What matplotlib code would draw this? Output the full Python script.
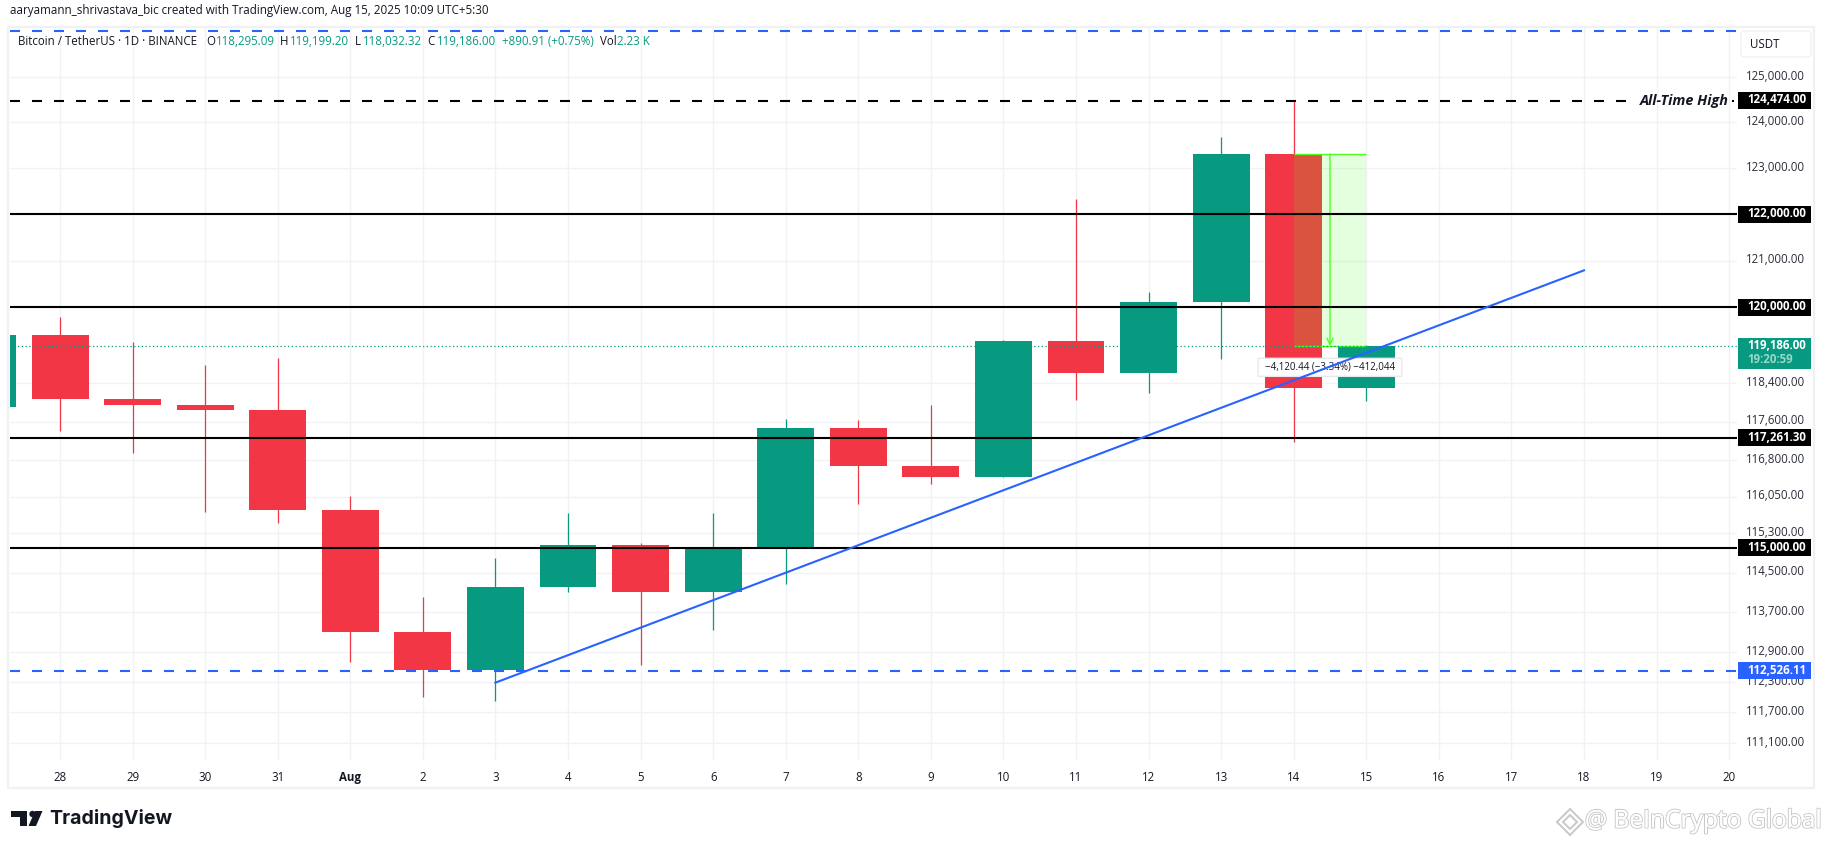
import numpy as np
import matplotlib
matplotlib.use("Agg")
import matplotlib.pyplot as plt
import matplotlib.patheffects as pe
import matplotlib.transforms as mtransforms
from matplotlib.patches import Rectangle, FancyBboxPatch, Polygon, Circle
from matplotlib.ticker import NullLocator

# daily candles, Jul 27 to Aug 15 (index 0 = Aug 1)
days = [-5, -4, -3, -2, -1, 0, 1, 2, 3, 4, 5, 6, 7, 8, 9, 10, 11, 12, 13, 14]
opens = [117900, 119415, 118062, 117950, 117840, 115764, 113297, 112546, 114208, 115055,
         114108, 114992, 117470, 116674, 116462, 119295, 118620, 120120, 123306, 118295]
highs = [119800, 119800, 119273, 118792, 118922, 116058, 114000, 114800, 115720, 115100,
         115716, 117650, 117630, 117940, 119300, 122335, 120320, 123667, 124474, 119199]
lows = [117800, 117400, 116950, 115736, 115500, 112700, 112000, 111920, 114100, 112650,
        113350, 114260, 115900, 116300, 116462, 118050, 118200, 118900, 117180, 118032]
closes = [119415, 118062, 117950, 117840, 115764, 113297, 112546, 114208, 115055, 114108,
          114992, 117470, 116674, 116462, 119295, 118620, 120120, 123306, 118295, 119186]

tick_days = list(range(-4, 20))
tick_names = ["28", "29", "30", "31", "Aug"] + [str(i) for i in range(2, 21)]
price_ticks = [125000, 124000, 123000, 122000, 121000, 120000, 118400, 117600, 116800, 116050,
               115300, 114500, 113700, 112900, 112300, 111700, 111100]
solid_levels = [122000, 120000, 117261.30, 115000]
ath_level = 124474
support_level = 112526.11
top_level = 126020
last_price = 119186
trend_days = [2, 17]
trend_prices = [112290, 120790]
measure_days = [13, 14]
measure_prices = [123306, 119186]

GREEN = "#089981"
RED = "#F23645"
BLUE = "#2962FF"
LIME = "#4CFF1E"
GRID = "#F1F2F5"
BORDER = "#F0F1F3"
INK = "#131722"
PX_PER_LOG = 5650.0
W, H = 1825, 849
FONT = "Open Sans"
plt.rcParams["font.family"] = [FONT, "DejaVu Sans"]

fig = plt.figure(figsize=(W / 100, H / 100), dpi=100, facecolor="white")

# main axes sits at pixels x 10-1737, y 28-760
left, right, top, bottom = 10, 1737, 28, 760
ax = fig.add_axes([left / W, 1 - bottom / H, (right - left) / W, (bottom - top) / H])
ax.set_yscale("log")
ax.set_xlim((left - 350.3) / 72.57, (right - 350.3) / 72.57)
ax.set_ylim(125000 * np.exp((76.8 - bottom) / PX_PER_LOG), 125000 * np.exp((76.8 - top) / PX_PER_LOG))
for s in ax.spines.values():
    s.set_visible(False)

ax.set_xticks(tick_days, tick_names)
ax.set_yticks(price_ticks, [f"{p:,.2f}" for p in price_ticks])
ax.yaxis.set_minor_locator(NullLocator())
ax.yaxis.tick_right()
ax.tick_params(axis="x", length=0, pad=8, labelsize=8.3, labelcolor=INK)
ax.tick_params(axis="y", length=0, pad=6.3, labelsize=8.3, labelcolor="#2A2E39")
ax.get_xticklabels()[4].set_fontweight("bold")

# price labels sit a little high in the reference
nudge = mtransforms.ScaledTranslation(0, 2.2 / 100, fig.dpi_scale_trans)
for lab in ax.get_yticklabels():
    lab.set_verticalalignment("center_baseline")
    lab.set_transform(lab.get_transform() + nudge)
ax.grid(True, color=GRID, lw=1.0)
ax.set_axisbelow(True)

# candles
for d, o, h, l, c in zip(days, opens, highs, lows, closes):
    col = GREEN if c >= o else RED
    ax.vlines(d, l, h, color=col, lw=0.9, zorder=2)
    ax.bar(d, abs(c - o), bottom=min(o, c), width=0.785, color=col, lw=0, zorder=3)

# measure tool
ax.add_patch(Rectangle((measure_days[0], measure_prices[1]), measure_days[1] - measure_days[0],
                       measure_prices[0] - measure_prices[1], facecolor=LIME, alpha=0.15, lw=0, zorder=4))
ax.hlines(measure_prices, measure_days[0], measure_days[1], color=LIME, lw=1, zorder=5)
ax.annotate("", xy=(np.mean(measure_days), measure_prices[1]), xytext=(np.mean(measure_days), measure_prices[0]),
            arrowprops=dict(arrowstyle="->", color=LIME, lw=1, shrinkA=0, shrinkB=0, mutation_scale=11), zorder=5)

# levels
xl = ax.get_xlim()
dash = (0, (4.8, 5.76))
ax.hlines(solid_levels, xl[0], xl[1], color="black", lw=1.5, zorder=6)
ax.hlines(ath_level, xl[0], 17.58, color="black", lw=1.5, linestyles=[dash], zorder=6)
ax.hlines(ath_level, 19.04, 19.07, color="black", lw=1.5, zorder=6)
ax.hlines([support_level, top_level], xl[0], xl[1], color=BLUE, lw=1.5, linestyles=[dash], zorder=6)
ax.hlines(last_price, xl[0], xl[1], color=GREEN, lw=0.9, linestyles=[(0, (1, 2))], zorder=6)
ax.text(19.0, ath_level, "All-Time High", ha="right", va="center", fontsize=10.4,
        fontweight="bold", fontstyle="italic", color=INK, zorder=7)

# measure label
box_tr = ax.get_yaxis_transform()
ax.add_patch(FancyBboxPatch((12.55, 118550), 1.9, 370, boxstyle="round,pad=0.04,rounding_size=0.05",
                            facecolor="white", edgecolor="#E8E9EC", lw=1, mutation_aspect=120, zorder=7))
ax.text(13.5, 118735, "\u22124,120.44 (\u22123.34%) \u2212412,044", ha="center", va="center",
        fontsize=7, color=INK, zorder=8)

# trend line over the label
ax.plot(trend_days, trend_prices, color=BLUE, lw=1.5, zorder=9)


def badge(price, color, h_up=8.5, h_down=8.5):
    lo = price * np.exp(-h_down / PX_PER_LOG)
    hi = price * np.exp(h_up / PX_PER_LOG)
    ax.add_patch(Rectangle((1738 - left, lo), 73, hi - lo, facecolor=color, lw=0, clip_on=False, zorder=10,
                           transform=mtransforms.blended_transform_factory(
                               mtransforms.Affine2D().translate(left, 0), ax.transData)))
    ax.text(1.0 + 10 / (right - left), price, f"{price:,.2f}", transform=box_tr + nudge, ha="left",
            va="center_baseline", fontsize=8.3, fontweight="bold", color="white", clip_on=False, zorder=11)


for p in solid_levels + [ath_level]:
    badge(p, "black")
badge(support_level, BLUE)
badge(last_price, GREEN, h_up=8, h_down=23)
ax.text(1.0 + 10 / (right - left), last_price * np.exp(-14 / PX_PER_LOG), "19:20:59", transform=box_tr + nudge, ha="left",
        va="center_baseline", fontsize=8.3, fontweight="bold", color="#9CD6CB", clip_on=False, zorder=11)

# page furniture drawn in pixel coordinates
page = fig.add_axes([0, 0, 1, 1], facecolor="none", zorder=5)
page.set_xlim(0, W)
page.set_ylim(H, 0)
page.axis("off")
page.add_patch(Rectangle((8.5, 27), 1806, 761, fill=False, edgecolor=BORDER, lw=1.6))
page.add_patch(FancyBboxPatch((1741, 31), 70, 26, boxstyle="round,pad=0,rounding_size=4",
                              facecolor="white", edgecolor=BORDER, lw=1))
page.text(1750, 44, "USDT", ha="left", va="center", fontsize=8.3, color=INK)

page.text(10, 10, "aaryamann_shrivastava_bic created with TradingView.com, Aug 15, 2025 10:09 UTC+5:30",
          ha="left", va="center", fontsize=8.42, color=INK)

legend_y = 41
legend_bits = [
    (18, "Bitcoin / TetherUS \u00b7 1D \u00b7 BINANCE", INK), (206, "O", INK), (216, "118,295.09", GREEN),
    (280, "H", INK), (290, "119,199.20", GREEN), (355, "L", INK), (363, "118,032.32", GREEN),
    (427, "C", INK), (437, "119,186.00", GREEN), (502, "+890.91 (+0.75%)", GREEN),
    (600, "Vol", INK), (617, "2.23 K", GREEN),
]
for x, s, col in legend_bits:
    page.text(x, legend_y, s, ha="left", va="center", fontsize=8.3, color=col)

# TradingView logo
page.add_patch(Polygon([(11.5, 811), (27, 811), (27, 826), (20, 826), (20, 817), (11.5, 817)], color=INK, lw=0))
page.add_patch(Circle((32.5, 814), 3.2, color=INK, lw=0))
page.add_patch(Polygon([(35, 811), (42.5, 811), (36, 826), (28.5, 826)], color=INK, lw=0))
page.text(49, 818, "TradingView", ha="left", va="center", fontsize=14.1, fontweight="bold",
          family="Inter", color=INK)

# watermark
outline = [pe.withStroke(linewidth=1.5, foreground="#C8C8C8"), pe.Normal()]
page.text(1585, 821, "@ BeInCrypto Global", ha="left", va="center", fontsize=17.7, color="white",
          path_effects=outline)
for r in (13, 7):
    page.add_patch(Polygon([(1570 - r, 822), (1570, 822 - r), (1570 + r, 822), (1570, 822 + r)],
                           fill=False, edgecolor="#C8C8C8", lw=1.4))

fig.savefig("out.png", dpi=100)
